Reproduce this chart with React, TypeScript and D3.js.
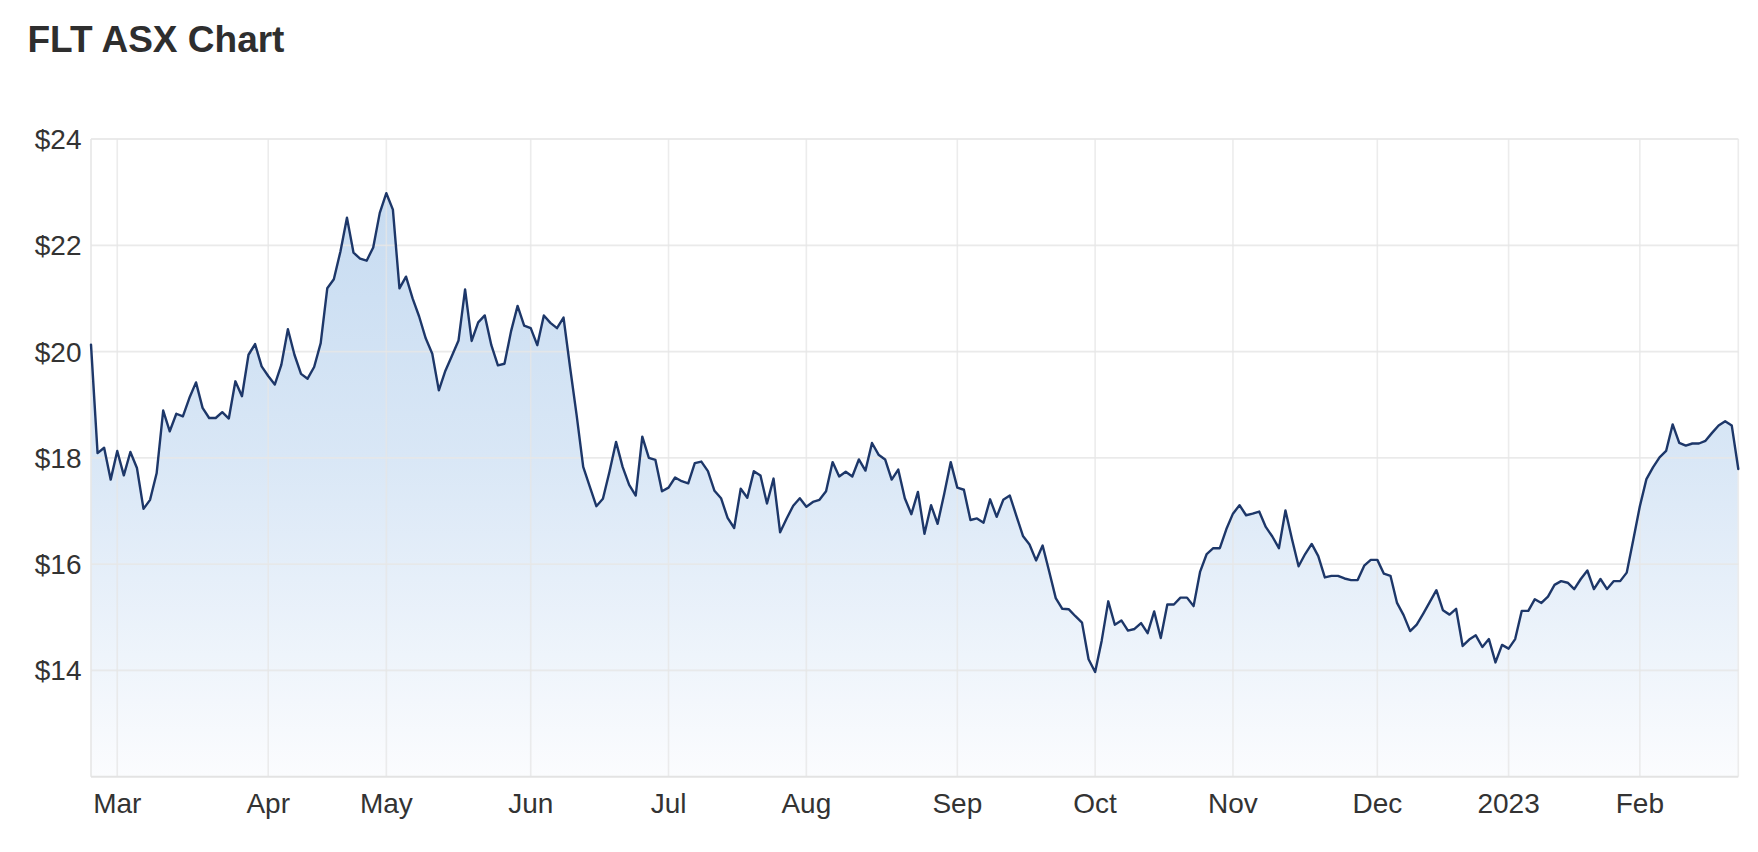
import React from 'react';
import * as d3 from 'd3';

const TITLE = 'FLT ASX Chart';
const START_DATE = '2022-02-23';
const HOLIDAYS = [
  '2022-04-15', '2022-04-18', '2022-04-25', '2022-06-13', '2022-09-22',
  '2022-12-26', '2022-12-27', '2023-01-02', '2023-01-26',
];
const PRICES = [
  20.13, 18.09, 18.19, 17.59, 18.13, 17.67, 18.11, 17.81, 17.04, 17.21,
  17.71, 18.89, 18.5, 18.83, 18.78, 19.13, 19.42, 18.94, 18.75, 18.75,
  18.86, 18.74, 19.44, 19.16, 19.94, 20.14, 19.72, 19.54, 19.38, 19.75,
  20.42, 19.94, 19.58, 19.49, 19.71, 20.16, 21.19, 21.36, 21.88, 22.52,
  21.86, 21.75, 21.71, 21.96, 22.61, 22.98, 22.67, 21.19, 21.41, 21.0,
  20.66, 20.25, 19.96, 19.27, 19.64, 19.92, 20.21, 21.17, 20.2, 20.55,
  20.68, 20.12, 19.74, 19.77, 20.38, 20.86, 20.49, 20.44, 20.12, 20.68,
  20.54, 20.44, 20.64, 19.7, 18.8, 17.83, 17.46, 17.09, 17.23, 17.74,
  18.3, 17.83, 17.49, 17.29, 18.4, 18.0, 17.96, 17.37, 17.44, 17.63,
  17.56, 17.52, 17.9, 17.93, 17.75, 17.38, 17.24, 16.87, 16.68, 17.42,
  17.25, 17.75, 17.67, 17.14, 17.61, 16.6, 16.86, 17.1, 17.24, 17.08,
  17.17, 17.21, 17.37, 17.92, 17.65, 17.74, 17.65, 17.97, 17.76, 18.28,
  18.06, 17.97, 17.59, 17.78, 17.24, 16.94, 17.36, 16.57, 17.11, 16.76,
  17.32, 17.92, 17.44, 17.4, 16.83, 16.86, 16.78, 17.22, 16.89, 17.21,
  17.29, 16.91, 16.53, 16.37, 16.07, 16.35, 15.86, 15.36, 15.16, 15.15,
  15.02, 14.9, 14.21, 13.97, 14.56, 15.3, 14.86, 14.94, 14.75, 14.78,
  14.89, 14.7, 15.11, 14.61, 15.24, 15.24, 15.37, 15.37, 15.21, 15.86,
  16.19, 16.3, 16.3, 16.66, 16.95, 17.11, 16.92, 16.95, 16.99, 16.7,
  16.52, 16.3, 17.01, 16.47, 15.96, 16.19, 16.38, 16.15, 15.75, 15.78,
  15.78, 15.73, 15.7, 15.7, 15.97, 16.08, 16.08, 15.82, 15.78, 15.27,
  15.04, 14.74, 14.86, 15.07, 15.29, 15.51, 15.13, 15.05, 15.16, 14.46,
  14.58, 14.66, 14.44, 14.59, 14.15, 14.48, 14.41, 14.59, 15.12, 15.12,
  15.34, 15.27, 15.39, 15.61, 15.68, 15.65, 15.53, 15.72, 15.88, 15.53,
  15.72, 15.53, 15.68, 15.68, 15.84, 16.46, 17.09, 17.6, 17.82, 18.01,
  18.13, 18.63, 18.28, 18.23, 18.27, 18.27, 18.32, 18.47, 18.61, 18.69,
  18.61, 17.79,
];
const Y_DOMAIN = [12, 24];
const Y_TICKS = [14, 16, 18, 20, 22, 24];

function tradingDays(start: string, n: number, holidays: string[]): Date[] {
  const out: Date[] = [];
  const hs = new Set(holidays);
  const d = new Date(start + 'T00:00:00Z');
  while (out.length < n) {
    const dow = d.getUTCDay();
    const iso = d.toISOString().slice(0, 10);
    if (dow !== 0 && dow !== 6 && !hs.has(iso)) out.push(new Date(d.getTime()));
    d.setUTCDate(d.getUTCDate() + 1);
  }
  return out;
}

const W = 1758;
const H = 852;
const M = { left: 91, right: 1738.3, top: 139, bottom: 776.7 };
const FONT = '"Liberation Sans", Arial, Helvetica, sans-serif';

export default function App() {
  const dates = tradingDays(START_DATE, PRICES.length, HOLIDAYS);
  const x = d3.scaleLinear().domain([0, PRICES.length - 1]).range([M.left, M.right]);
  const y = d3.scaleLinear().domain(Y_DOMAIN).range([M.bottom, M.top]);

  const monthTicks: { i: number; label: string }[] = [];
  const fmtMonth = d3.utcFormat('%b');
  const fmtYear = d3.utcFormat('%Y');
  dates.forEach((d, i) => {
    if (i > 0 && d.getUTCMonth() !== dates[i - 1].getUTCMonth()) {
      monthTicks.push({ i, label: d.getUTCMonth() === 0 ? fmtYear(d) : fmtMonth(d) });
    }
  });

  const line = d3.line<number>().x((_, i) => x(i)).y((v) => y(v));
  const area = d3.area<number>().x((_, i) => x(i)).y0(y(Y_DOMAIN[0])).y1((v) => y(v));

  return (
    <svg
      width={W}
      height={H}
      style={{ position: 'fixed', left: 0, top: 0, background: '#fff' }}
      fontFamily={FONT}
    >
      <defs>
        <linearGradient id="fillGrad" gradientUnits="userSpaceOnUse" x1={0} y1={M.top} x2={0} y2={M.bottom}>
          <stop offset="0" stopColor="#c3d9f0" />
          <stop offset="0.5" stopColor="#d9e7f6" />
          <stop offset="1" stopColor="#fbfcfe" />
        </linearGradient>
      </defs>
      <rect x={0} y={0} width={W} height={H} fill="#fff" />
      <text x={27.5} y={51.5} fontSize={37} fontWeight="bold" fill="#2e2e2e">{TITLE}</text>

      <path d={area(PRICES) || ''} fill="url(#fillGrad)" />

      {monthTicks.map((t) => (
        <line key={'v' + t.i} x1={x(t.i)} x2={x(t.i)} y1={M.top} y2={M.bottom}
          stroke="#e6e6e6" strokeOpacity={0.75} strokeWidth={1.6} />
      ))}
      <line x1={M.left} x2={M.left} y1={M.top} y2={M.bottom} stroke="#e6e6e6" strokeWidth={1.6} />
      <line x1={M.right} x2={M.right} y1={M.top} y2={M.bottom} stroke="#ececec" strokeWidth={1.6} />
      {Y_TICKS.map((v) => (
        <line key={'h' + v} x1={M.left} x2={M.right} y1={y(v)} y2={y(v)}
          stroke="#e6e6e6" strokeOpacity={0.85} strokeWidth={1.8} />
      ))}
      <line x1={M.left} x2={M.right} y1={y(Y_DOMAIN[0])} y2={y(Y_DOMAIN[0])} stroke="#e3e3e3" strokeWidth={2} />

      <path d={line(PRICES) || ''} fill="none" stroke="#1d3769" strokeWidth={2.4}
        strokeLinejoin="round" strokeLinecap="round" />

      {Y_TICKS.map((v) => (
        <text key={'yl' + v} x={81.5} y={y(v)} dy="0.36em" textAnchor="end" fontSize={28} fill="#333">
          {'$' + v}
        </text>
      ))}
      {monthTicks.map((t) => (
        <text key={'xl' + t.i} x={x(t.i)} y={813} textAnchor="middle" fontSize={28} fill="#333">
          {t.label}
        </text>
      ))}
    </svg>
  );
}
